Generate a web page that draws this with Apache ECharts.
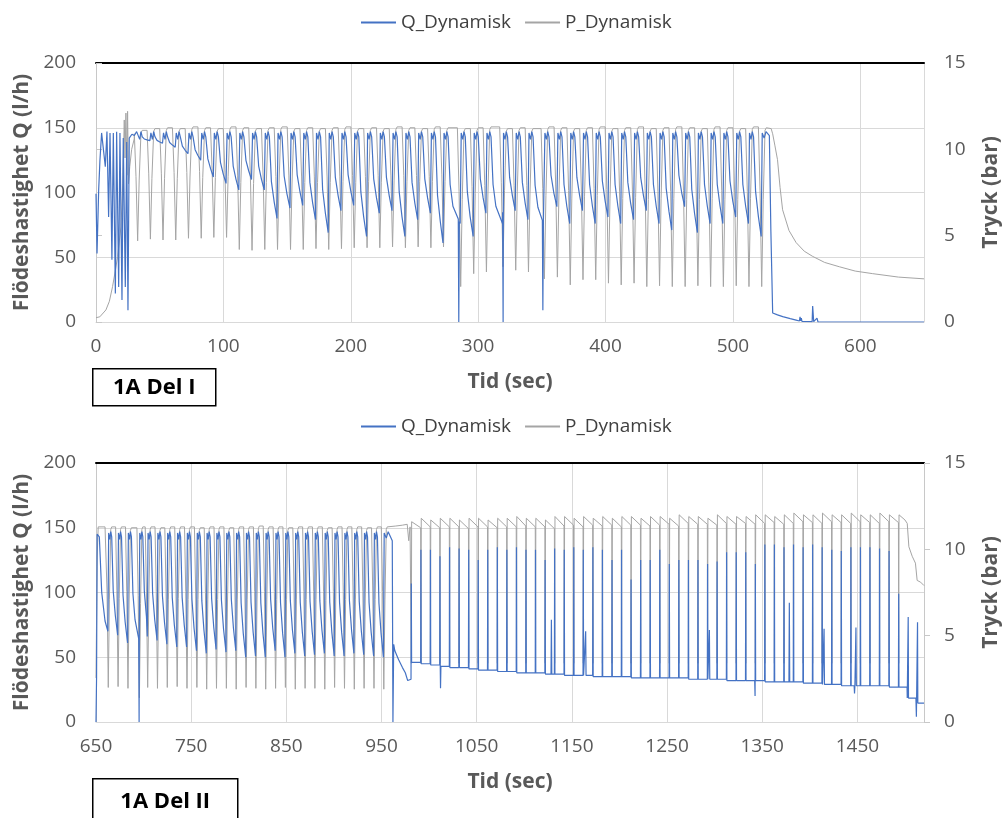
<!DOCTYPE html>
<html>
<head>
<meta charset="utf-8">
<script src="https://cdn.jsdelivr.net/npm/echarts@6/dist/echarts.min.js"></script>
<style>
  html, body { margin: 0; padding: 0; background: #fff; }
  #chart-container { width: 1004px; height: 818px; }
</style>
</head>
<body>
<div id="chart-container"></div>
<script>
// ---------- 1A Del I (0 - 650 s) ----------
// times of the pressure troughs (s), one per pump cycle
var tTop = [32.7, 42.7, 52.6, 62.6, 72.6, 82.6, 92.5, 102.5, 112.5, 122.5, 132.5, 142.5, 152.7, 162.7, 172.7, 182.7, 192.7, 202.7, 212.8, 222.8, 232.8, 242.9, 252.9, 262.9, 272.8,
    286.3, 296.5, 306.5, 319.5, 329.5, 339.5, 352.0, 362.2, 372.3, 382.3, 392.3, 402.3, 412.3, 422.4, 432.4, 442.4, 452.4, 462.5, 472.5, 482.5, 492.5, 502.6, 512.6, 522.6];
// pressure at each trough (bar)
var pTrTop = [4.7, 4.8, 4.75, 4.75, 4.85, 4.85, 4.9, 4.9, 4.2, 4.15, 4.2, 4.2, 4.2, 4.2, 4.25, 4.2, 4.25, 4.3, 4.3, 4.3, 4.35, 4.3, 4.35, 4.3, 4.35,
    2.05, 2.8, 2.9, 3.2, 3.0, 2.9, 2.5, 2.6, 2.15, 2.45, 2.45, 2.25, 2.15, 2.25, 2.05, 2.1, 2.05, 2.05, 2.1, 2.05, 2.05, 2.1, 2.05, 2.05];
// pressure plateau after each trough (bar)
var pPkTop = [11.1, 11.2, 11.25, 11.2, 11.3, 11.25, 11.2, 11.3, 11.25, 11.2, 11.25, 11.3, 11.2, 11.25, 11.2, 11.25, 11.3, 11.2, 11.25, 11.2,
    11.3, 11.25, 11.2, 11.3, 11.25, 11.2, 11.25, 11.3, 11.2, 11.25, 11.2, 11.3, 11.25, 11.2, 11.25, 11.3, 11.2, 11.25, 11.3, 11.2,
    11.25, 11.3, 11.25, 11.2, 11.3, 11.25, 11.2, 11.3, 11.25];
// lowest flow reached in each cycle (l/h)
var qLowTop = [140, 138, 135, 130, 125, 112, 107, 102, 110, 102, 80, 88, 90, 79, 69, 86, 90, 66, 84, 86,
    66, 79, 84, 61, 76, 66, 84, 76, 86, 79, 75, 89, 76, 86, 76, 81, 76, 79, 86, 76, 71, 89, 69, 76, 76, 81, 76, 66];
// start-up, sharp dips and tail
var qStartTop = [[0, 99], [0.8, 53], [2.1, 102], [3.1, 125], [4.4, 146], [5.8, 147], [7.3, 120], [8.6, 147], [9.9, 81], [11, 146],
    [12.5, 48], [13.6, 146], [15.2, 22], [16.2, 147], [17.8, 27], [18.8, 146], [20.4, 17], [21.4, 142], [23, 27], [24.1, 139],
    [25.1, 9], [26.1, 142], [28.2, 145], [30.1, 144], [31.9, 147]];
var pStartTop = [[0, 0.25], [3, 0.3], [7.8, 0.7], [10.5, 1.2], [13, 2.05], [15, 2.9], [17, 3.8], [19.6, 5.5], [21, 8.0], [22.2, 11.7],
    [22.8, 9.5], [23.5, 12.1], [24.3, 8.5], [24.8, 12.2], [25.5, 8.0], [26.5, 9.0], [28, 10.0], [30, 10.6]];
var qDipTop = [[284.8, 0], [319.6, 0], [350.8, 9]];
var qEndTop = [[523, 146], [524.5, 142], [526, 147], [528.6, 144], [529.8, 70]];
var qTailTop = [[531.2, 7], [535, 5.5], [539.1, 4.1], [545, 2.6], [549.6, 1.5], [552.2, 0.8], [552.7, 4], [553.2, 0.8], [553.7, 3],
    [554.2, 0.5], [562.2, 0.3], [562.6, 12.4], [563.4, 0.3], [566, 3], [566.8, 0], [624, 0], [624.3, 1], [624.6, 0], [650, 0]];
var pTailTop = [[530, 11.2], [531.2, 10.9], [533, 10.2], [535, 9.4], [537, 7.8], [539, 6.5], [544, 5.3], [549.6, 4.6], [556, 4.1],
    [562.6, 3.8], [572, 3.45], [583.5, 3.2], [596, 2.95], [609.7, 2.8], [630, 2.6], [650, 2.5]];

// ---------- 1A Del II (650 - 1520 s) ----------
var tBot1 = [662.9, 673.2, 683.6, 695.6, 704.3, 714.6, 724.9, 735.3, 745.6, 756.0, 766.3, 776.6, 787.0, 797.3, 807.7, 818.0, 828.3, 838.7,
    849.0, 859.4, 869.7, 880.0, 890.4, 900.7, 911.1, 921.4, 931.7, 942.1, 952.4];
var pTrBot1 = [2.0, 2.05, 1.95, 1.4, 2.0, 1.95, 2.0, 2.05, 1.95, 2.0, 1.9, 1.95, 1.95, 1.9, 2.0, 1.95, 1.9, 1.95, 2.0, 1.9,
    1.95, 1.95, 1.9, 2.0, 1.95, 1.9, 1.95, 1.95, 1.9];
var pPkBot1 = [11.3, 11.3, 11.25, 11.3, 11.3, 11.25, 11.3, 11.3, 11.3, 11.25, 11.3, 11.3, 11.25, 11.3, 11.3, 11.35, 11.3, 11.3, 11.25, 11.3,
    11.3, 11.3, 11.25, 11.3, 11.3, 11.3, 11.25, 11.3, 11.3];
var qLowBot1 = [67, 61, 63, 66, 63, 60, 58, 58, 55, 53, 56, 54, 55, 50, 51, 50, 55, 50, 53, 51, 52, 53, 51, 51, 53, 52, 51, 50];
var qStartBot = [[650, 0], [650.6, 35], [651.2, 145], [653.5, 143], [656, 100], [659.5, 78], [662.5, 70]];
var pStartBot = [[650, 2.55], [651.2, 9.5], [652.3, 11.3], [659.5, 11.3]];
var qMidBot = [[952.8, 146], [955, 142], [957, 147], [961.3, 140], [962, 0], [962.8, 60], [964, 55], [968, 48], [972, 42], [975, 38], [977.5, 32], [981, 33]];
var pMidBot = [[965, 11.35], [972, 11.4], [977, 11.45], [978.6, 10.5], [980, 11.3], [981.05, 11.3]];
// second regime: short flow pulses
var tSpk = [981.3, 991.4, 1001.4, 1011.4, 1021.5, 1031.5, 1041.6, 1051.6, 1061.6, 1071.7, 1081.7, 1091.8, 1101.8, 1111.8, 1121.9, 1131.9, 1142.0, 1152.0,
    1162.0, 1172.1, 1182.1, 1192.2, 1202.2, 1212.2, 1222.3, 1232.3, 1242.4, 1252.4, 1262.4, 1272.5, 1282.5, 1292.6, 1302.6, 1312.6, 1322.7, 1332.7,
    1342.8, 1352.8, 1362.8, 1372.9, 1382.9, 1393.0, 1403.0, 1413.0, 1423.1, 1433.1, 1443.2, 1453.2, 1463.2, 1473.3, 1483.3, 1493.4];
var qSpk = [107, 133, 133, 128, 135, 134, 133, 125, 133, 135, 133, 135, 133, 133, 125, 134, 133, 135, 133, 135, 133, 125, 133, 110, 125, 125, 133, 122,
    125, 125, 125, 122, 124, 131, 131, 131, 122, 137, 137, 135, 137, 135, 137, 135, 133, 132, 135, 135, 135, 134, 132, 99];
var qBase2 = [46, 45, 44, 43, 42, 42, 41, 40, 40, 39, 39, 38, 38, 38, 37, 37, 36, 36, 36, 35, 35, 35, 35, 34, 34, 34, 34, 34, 34, 33,
    33, 33, 33, 32, 32, 32, 32, 31, 31, 31, 31, 30, 30, 29, 29, 28, 28, 28, 28, 28, 27, 27];
var pPk2 = [11.6, 11.8, 11.7, 11.8, 11.8, 11.7, 11.8, 11.8, 11.7, 11.8, 11.8, 11.9, 11.8, 11.8, 11.7, 11.9, 11.9, 11.8, 11.9, 11.8,
    11.9, 11.8, 11.9, 11.9, 11.8, 11.9, 11.9, 11.8, 12.0, 11.9, 11.9, 11.8, 12.0, 11.9, 11.9, 11.9, 12.0, 12.0, 11.9, 12.0,
    12.1, 12.0, 12.0, 12.1, 12.0, 12.0, 12.1, 12.0, 12.0, 12.1, 12.0, 12.0];
var pEnd2 = [11.25, 11.3, 11.25, 11.3, 11.3, 11.2, 11.3, 11.3, 11.25, 11.3, 11.3, 11.35, 11.3, 11.3, 11.2, 11.35, 11.4, 11.3, 11.4, 11.35,
    11.4, 11.3, 11.4, 11.4, 11.35, 11.4, 11.45, 11.35, 11.5, 11.45, 11.45, 11.4, 11.5, 11.45, 11.5, 11.45, 11.5, 11.55, 11.45, 11.5,
    11.6, 11.55, 11.5, 11.6, 11.55, 11.5, 11.6, 11.55, 11.5, 11.6, 11.55, 11.5];
var pTrough2 = 3.4;
var qEventsBot = [[695.3, 0], [1012, 26], [1128.5, 79], [1164.5, 70], [1294.5, 71], [1342.5, 20], [1378.5, 92], [1415, 72], [1447, 22], [1448.5, 73]];
var qTailBot = [[1502.2, 27], [1502.4, 18.5], [1503.2, 18.5], [1503.4, 81], [1503.7, 18.5], [1511.5, 18.5], [1512, 4], [1512.9, 4],
    [1513.2, 77], [1513.5, 14.6], [1520, 14.6]];
var pTailBot = [[1500, 11.7], [1502.4, 11.5], [1504.1, 10.15], [1507.6, 9.6], [1511, 9.2], [1512.8, 8.2], [1516.4, 8.1], [1520, 7.9]];

var BLUE = '#4472C4', GREY = '#A5A5A5', FONT = 'Open Sans';

// flow inside one cycle: high after the trough, then falling to the cycle's low
function sawQ(pts, t0, t1, lo) {
    var hi = 143;
    pts.push([t0 + 0.4, 146], [t0 + 1.6, 141], [t0 + 2.6, 147], [t0 + 3.6, hi],
        [t0 + 5.2, lo + 0.45 * (hi - lo)], [t0 + 7.4, lo + 0.2 * (hi - lo)], [t1 - 0.4, lo]);
}
// pressure trough (V) followed by the plateau
function vP(pts, T, prevPk, tr, pk) {
    pts.push([T - 2.6, prevPk], [T - 1.3, tr + 0.6 * (prevPk - tr)], [T, tr],
        [T + 1.2, tr + 0.55 * (pk - tr)], [T + 2.6, pk - 0.15], [T + 3.6, pk]);
}
function valueAt(pts, t) {
    for (var i = 1; i < pts.length; i++) {
        if (pts[i][0] >= t) {
            var a = pts[i - 1], b = pts[i];
            if (b[0] === a[0]) return b[1];
            return a[1] + (b[1] - a[1]) * (t - a[0]) / (b[0] - a[0]);
        }
    }
    return pts[pts.length - 1][1];
}
function addEvents(pts, events) {
    var extra = [];
    events.forEach(function (e) {
        extra.push([e[0] - 0.4, valueAt(pts, e[0] - 0.4)], [e[0], e[1]], [e[0] + 0.4, valueAt(pts, e[0] + 0.4)]);
    });
    var all = pts.concat(extra);
    all.sort(function (p, q) { return p[0] - q[0]; });
    return all;
}

// ---- build top series ----
var qTop = qStartTop.slice();
for (var k = 0; k < tTop.length - 1; k++) sawQ(qTop, tTop[k], tTop[k + 1], qLowTop[k]);
qTop = qTop.concat(qEndTop, qTailTop);
qTop = addEvents(qTop, qDipTop);

var pTop = pStartTop.slice();
for (var k = 0; k < tTop.length; k++) vP(pTop, tTop[k], k === 0 ? 10.9 : pPkTop[k - 1], pTrTop[k], pPkTop[k]);
pTop = pTop.concat(pTailTop);

// ---- build bottom series ----
var qBot = qStartBot.slice();
for (var k = 0; k < tBot1.length - 1; k++) sawQ(qBot, tBot1[k], tBot1[k + 1], qLowBot1[k]);
qBot = qBot.concat(qMidBot);
for (var k = 0; k < tSpk.length; k++) {
    var S = tSpk[k];
    qBot.push([S - 0.25, k === 0 ? 33 : qBase2[k - 1]], [S, qSpk[k]], [S + 0.3, qBase2[k]]);
}
qBot = qBot.concat(qTailBot);
qBot = addEvents(qBot, qEventsBot);

var pBot = pStartBot.slice();
for (var k = 0; k < tBot1.length; k++) vP(pBot, tBot1[k], k === 0 ? 11.3 : pPkBot1[k - 1], pTrBot1[k], pPkBot1[k]);
pBot = pBot.concat(pMidBot);
for (var k = 0; k < tSpk.length; k++) {
    var S = tSpk[k];
    if (k > 0) pBot.push([S - 0.25, pEnd2[k - 1]]);
    pBot.push([S, pTrough2], [S + 0.35, pPk2[k]]);
}
pBot = pBot.concat(pTailBot);

// ---- chart ----
var chartDom = document.getElementById('chart-container');
var myChart = echarts.init(chartDom, null, {renderer: 'canvas'});

var titleStyle = {color: '#595959', fontSize: 21, fontWeight: 'bold', fontFamily: FONT};
var tickStyle = {color: '#595959', fontSize: 19, fontFamily: FONT};

function xAxisMain(grid, min, max) {
    return {
        type: 'value', gridIndex: grid, min: min, max: max, interval: 100,
        axisLine: {show: true, onZero: false, lineStyle: {color: '#d9d9d9', width: 1}},
        axisTick: {show: false},
        axisLabel: Object.assign({margin: 15, showMaxLabel: false, formatter: function (v) { return String(v); }}, tickStyle),
        splitLine: {show: true, lineStyle: {color: '#d9d9d9', width: 1}},
        name: 'Tid (sec)', nameLocation: 'middle', nameGap: 50,
        nameTextStyle: titleStyle
    };
}
function xAxisBorder(grid, min, max) {
    return {
        type: 'value', gridIndex: grid, min: min, max: max, position: 'top',
        axisLine: {show: true, onZero: false, lineStyle: {color: '#000', width: 2}},
        axisTick: {show: false}, axisLabel: {show: false}, splitLine: {show: false}
    };
}
function yAxisQ(grid) {
    return {
        type: 'value', gridIndex: grid, min: 0, max: 200, interval: 50, position: 'left',
        axisLine: {show: true, lineStyle: {color: '#c8c8c8'}},
        axisTick: {show: false},
        axisLabel: Object.assign({margin: 20}, tickStyle),
        splitLine: {show: true, lineStyle: {color: '#d9d9d9', width: 1}},
        name: 'Flödeshastighet Q (l/h)', nameLocation: 'middle', nameGap: 58, nameRotate: 90,
        nameTextStyle: titleStyle
    };
}
function yAxisP(grid) {
    return {
        type: 'value', gridIndex: grid, min: 0, max: 15, interval: 5, position: 'right',
        axisLine: {show: true, lineStyle: {color: '#c8c8c8'}},
        axisTick: {show: true, length: 6, lineStyle: {color: '#c8c8c8'}},
        axisLabel: Object.assign({margin: 20}, tickStyle),
        splitLine: {show: false},
        name: 'Tryck (bar)', nameLocation: 'middle', nameGap: 57, nameRotate: 90,
        nameTextStyle: titleStyle
    };
}
function legendAt(top) {
    return {
        data: ['Q_Dynamisk', 'P_Dynamisk'], left: 356, top: top, icon: 'rect',
        itemWidth: 35, itemHeight: 2, itemGap: 14,
        textStyle: {color: '#404040', fontSize: 19, fontFamily: FONT}
    };
}
function lineSeries(name, x, y, data, color, width) {
    return {
        name: name, type: 'line', xAxisIndex: x, yAxisIndex: y, data: data,
        showSymbol: false, symbol: 'none', animation: false, silent: true,
        lineStyle: {color: color, width: width}, itemStyle: {color: color}
    };
}
function labelBox(x, y, w, h, text) {
    return {
        type: 'group', left: x, top: y, children: [
            {type: 'rect', shape: {x: 0, y: 0, width: w, height: h}, style: {fill: '#fff', stroke: '#000', lineWidth: 1.5}},
            {type: 'text', x: w / 2, y: h / 2, style: {text: text, fill: '#000', font: 'bold 22px "Open Sans"', align: 'center', verticalAlign: 'middle'}}
        ]
    };
}

var option = {
    backgroundColor: '#fff',
    animation: false,
    textStyle: {fontFamily: FONT},
    legend: [legendAt(8), legendAt(412)],
    grid: [
        {left: 96, right: 80, top: 63, height: 259, outerBoundsMode: 'none', containLabel: false},
        {left: 96, right: 80, top: 463, height: 259, outerBoundsMode: 'none', containLabel: false}
    ],
    xAxis: [xAxisMain(0, 0, 650), xAxisBorder(0, 0, 650), xAxisMain(1, 650, 1520), xAxisBorder(1, 650, 1520)],
    yAxis: [yAxisQ(0), yAxisP(0), yAxisQ(1), yAxisP(1)],
    graphic: [labelBox(92, 368, 123, 37, '1A Del I'), labelBox(92, 778, 145, 46, '1A Del II')],
    series: [
        lineSeries('P_Dynamisk', 0, 1, pTop, GREY, 1),
        lineSeries('Q_Dynamisk', 0, 0, qTop, BLUE, 1.2),
        lineSeries('P_Dynamisk', 2, 3, pBot, GREY, 1),
        lineSeries('Q_Dynamisk', 2, 2, qBot, BLUE, 1.2)
    ]
};

option && myChart.setOption(option);
</script>
</body>
</html>
